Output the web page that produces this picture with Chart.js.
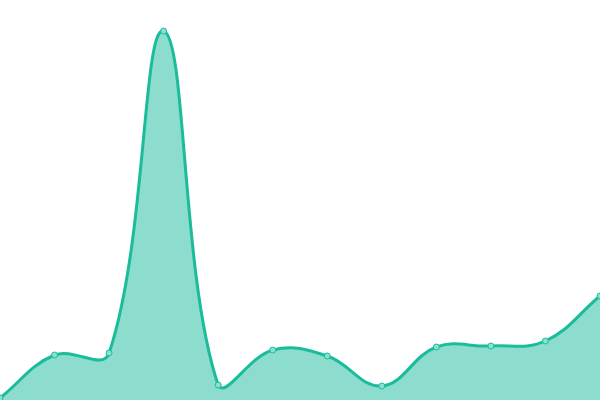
<!DOCTYPE html>
<html>
<head>
<meta charset="utf-8">
<script src="https://cdn.jsdelivr.net/npm/chart.js@4/dist/chart.umd.min.js"></script>
<style>
  html, body { margin: 0; padding: 0; background: #fff; }
  #wrap { width: 600px; height: 400px; }
</style>
</head>
<body>
<div id="wrap"><canvas id="chart"></canvas></div>
<script>
// values (chart area is the full 400px height)
const labels = ['1', '2', '3', '4', '5', '6', '7', '8', '9', '10', '11', '12'];
const values = [2, 45, 47, 369, 15, 50, 44, 14, 53, 54, 59, 104];
const yMin = 0;
const yMax = 400;

const LINE = '#1abc9c';
const FILL = 'rgba(26,188,156,0.5)';

new Chart(document.getElementById('chart'), {
  type: 'line',
  data: {
    labels,
    datasets: [{
      data: values,
      borderColor: LINE,
      backgroundColor: FILL,
      borderWidth: 3,
      fill: true,
      tension: 0.4,
      pointRadius: 3,
      pointBorderWidth: 1,
      pointBackgroundColor: 'rgba(136,224,207,1)',
      pointBorderColor: LINE,
    }],
  },
  options: {
    responsive: true,
    maintainAspectRatio: false,
    animation: false,
    layout: { padding: 0, autoPadding: false },
    plugins: { legend: { display: false }, tooltip: { enabled: false } },
    scales: {
      x: { display: false },
      y: { display: false, min: yMin, max: yMax },
    },
  },
});
</script>
</body>
</html>
